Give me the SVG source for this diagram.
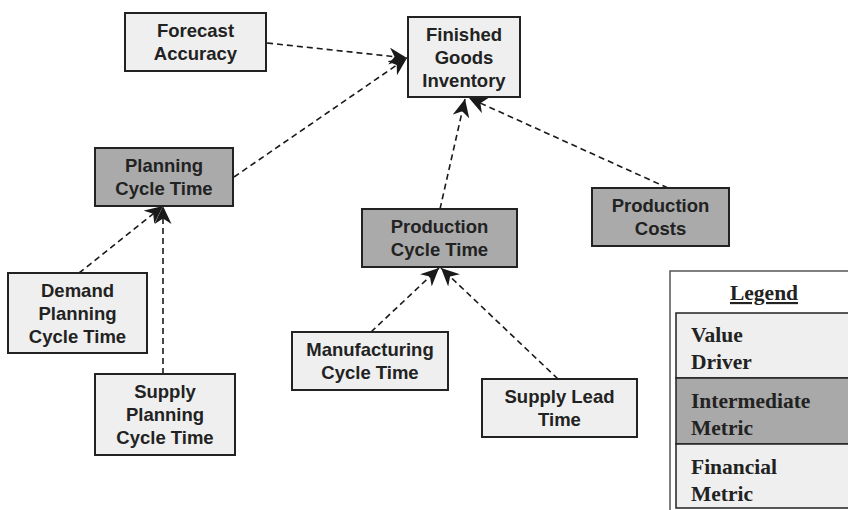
<svg xmlns="http://www.w3.org/2000/svg" width="848" height="510" viewBox="0 0 848 510">
  <defs>
    <marker id="arrow" markerUnits="userSpaceOnUse" markerWidth="20" markerHeight="18" refX="18" refY="8.5" orient="auto">
      <path d="M0,0 L18,8.5 L0,17 L5.5,8.5 Z" fill="#1a1a1a"/>
    </marker>
  </defs>
  <style>
    .box { stroke: #222; stroke-width: 2; }
    .light { fill: #efefef; }
    .dark { fill: #aaaaaa; }
    .lbl { font-family: "Liberation Sans", Arial, sans-serif; font-weight: bold; font-size: 18.5px; fill: #222; text-anchor: middle; }
    .edge { fill: none; stroke: #1a1a1a; stroke-width: 1.6; stroke-dasharray: 6 4; marker-end: url(#arrow); }
    .leg { font-family: "Liberation Serif", "Times New Roman", serif; font-weight: bold; font-size: 21.5px; fill: #222; }
  </style>
  <rect width="848" height="510" fill="#fff"/>

  <g id="connectors">
    <line class="edge" x1="267" y1="43" x2="407" y2="58"/>
    <line class="edge" x1="234" y1="177" x2="407" y2="58"/>
    <line class="edge" x1="440" y1="209" x2="465" y2="99"/>
    <line class="edge" x1="668" y1="188" x2="469" y2="98"/>
    <line class="edge" x1="79" y1="273" x2="163" y2="206"/>
    <line class="edge" x1="163" y1="374" x2="163" y2="206"/>
    <line class="edge" x1="371" y1="332" x2="439" y2="268"/>
    <line class="edge" x1="558" y1="379" x2="441" y2="268"/>
  </g>

  <g id="forecast-accuracy">
    <rect class="box light" x="125" y="13" width="141" height="58"/>
    <text class="lbl" x="195.5" y="37">Forecast</text>
    <text class="lbl" x="195.5" y="60">Accuracy</text>
  </g>

  <g id="finished-goods-inventory">
    <rect class="box light" x="408" y="17" width="112" height="80"/>
    <text class="lbl" x="464" y="41">Finished</text>
    <text class="lbl" x="464" y="64">Goods</text>
    <text class="lbl" x="464" y="87">Inventory</text>
  </g>

  <g id="planning-cycle-time">
    <rect class="box dark" x="95" y="148" width="138" height="58"/>
    <text class="lbl" x="164" y="172">Planning</text>
    <text class="lbl" x="164" y="195">Cycle Time</text>
  </g>

  <g id="demand-planning-cycle-time">
    <rect class="box light" x="8" y="273" width="139" height="80"/>
    <text class="lbl" x="77.5" y="297">Demand</text>
    <text class="lbl" x="77.5" y="320">Planning</text>
    <text class="lbl" x="77.5" y="343">Cycle Time</text>
  </g>

  <g id="supply-planning-cycle-time">
    <rect class="box light" x="95" y="374" width="140" height="81"/>
    <text class="lbl" x="165" y="398">Supply</text>
    <text class="lbl" x="165" y="421">Planning</text>
    <text class="lbl" x="165" y="444">Cycle Time</text>
  </g>

  <g id="production-cycle-time">
    <rect class="box dark" x="362" y="209" width="155" height="58"/>
    <text class="lbl" x="439.5" y="233">Production</text>
    <text class="lbl" x="439.5" y="256">Cycle Time</text>
  </g>

  <g id="production-costs">
    <rect class="box dark" x="592" y="188" width="137" height="58"/>
    <text class="lbl" x="660.5" y="212">Production</text>
    <text class="lbl" x="660.5" y="235">Costs</text>
  </g>

  <g id="manufacturing-cycle-time">
    <rect class="box light" x="292" y="332" width="156" height="58"/>
    <text class="lbl" x="370" y="356">Manufacturing</text>
    <text class="lbl" x="370" y="379">Cycle Time</text>
  </g>

  <g id="supply-lead-time">
    <rect class="box light" x="482" y="379" width="155" height="58"/>
    <text class="lbl" x="559.5" y="403">Supply Lead</text>
    <text class="lbl" x="559.5" y="426">Time</text>
  </g>

  <g id="legend">
    <rect x="670" y="271" width="190" height="250" fill="#fff" stroke="#555" stroke-width="1.5"/>
    <text class="leg" x="764" y="300" text-anchor="middle" text-decoration="underline">Legend</text>
    <rect x="676" y="313" width="190" height="65" fill="#efefef" stroke="#222" stroke-width="1.5"/>
    <rect x="676" y="378" width="190" height="66" fill="#a9a9a9" stroke="#222" stroke-width="1.5"/>
    <rect x="676" y="444" width="190" height="64" fill="#efefef" stroke="#222" stroke-width="1.5"/>
    <text class="leg" x="691" y="342">Value</text>
    <text class="leg" x="691" y="369">Driver</text>
    <text class="leg" x="691" y="408">Intermediate</text>
    <text class="leg" x="691" y="435">Metric</text>
    <text class="leg" x="691" y="474">Financial</text>
    <text class="leg" x="691" y="501">Metric</text>
  </g>
</svg>
